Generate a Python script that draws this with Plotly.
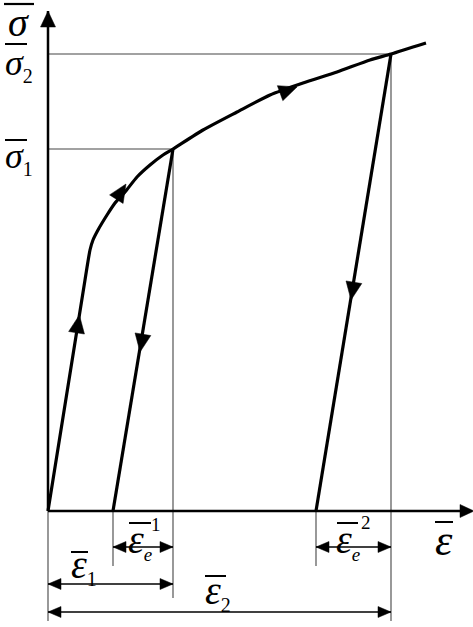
import numpy as np
import plotly.graph_objects as go

# ---------------- data (strain, stress) in arbitrary units ----------------
load_eps = [0.0, 0.37, 0.42, 0.45, 0.50, 0.59, 0.67, 0.77, 0.89, 1.02, 1.15, 1.25,
            1.55, 1.89, 2.22, 2.55, 2.89, 3.22, 3.43, 3.78]
load_sig = [0.0, 2.31, 2.61, 2.71, 2.81, 2.96, 3.08, 3.19, 3.34, 3.46, 3.56, 3.62,
            3.81, 3.99, 4.16, 4.28, 4.39, 4.51, 4.57, 4.68]

peak_eps = [1.25, 3.43]        # strain at unloading points
peak_sig = [3.62, 4.57]        # sigma_1, sigma_2
resid_eps = [0.65, 2.68]       # strain after unloading

axis_eps_max = 4.22
axis_sig_max = 5.00

# arrows on the path: (x, y) tip positions and directions
arrow_pts = [(0.314, 1.96), (0.78, 3.27), (2.49, 4.24), (0.92, 1.59), (3.03, 2.11)]
arrow_dirs = [(0.37, 2.31), (0.14, 0.22), (0.33, 0.12), (-0.60, -3.62), (-0.75, -4.57)]

# dimension rows (y level) for the bottom annotations
dim_e1_y = -0.36
dim_1_y = -0.73
dim_2_y = -1.01

# ---------------------------------------------------------------------------
U = 100.0  # pixels per unit (both axes)


def P(px, py):
    return (px - 48) / U, (511 - py) / U


fig = go.Figure()


def line(xs, ys, w, color="black", shape="linear"):
    fig.add_trace(go.Scatter(x=xs, y=ys, mode="lines",
                             line=dict(color=color, width=w, shape=shape,
                                       smoothing=0.6 if shape == "spline" else None),
                             hoverinfo="skip", showlegend=False))


def tri(tx, ty, dx, dy, L, W):
    d = np.array([dx, dy], float)
    d /= np.linalg.norm(d)
    n = np.array([-d[1], d[0]])
    L /= U
    W /= U
    b = np.array([tx, ty]) - L * d
    p1 = b + W / 2 * n
    p2 = b - W / 2 * n
    fig.add_trace(go.Scatter(x=[tx, p1[0], p2[0], tx], y=[ty, p1[1], p2[1], ty],
                             mode="lines", fill="toself", fillcolor="black",
                             line=dict(color="black", width=0.5),
                             hoverinfo="skip", showlegend=False))


gray = "#444444"
# guide lines (horizontal)
for e, s in zip(peak_eps, peak_sig):
    line([0, e], [s, s], 1.1, gray)
# vertical extension lines
line([0, 0], [0, dim_2_y - 0.09], 1.1, gray)
line([peak_eps[0], peak_eps[0]], [peak_sig[0], dim_1_y - 0.14], 1.1, gray)
line([peak_eps[1], peak_eps[1]], [peak_sig[1], dim_2_y - 0.09], 1.1, gray)
for r in resid_eps:
    line([r, r], [0, dim_e1_y - 0.19], 1.1, gray)

# axes
line([0, axis_eps_max], [0, 0], 2.5)
line([0, 0], [0, axis_sig_max], 2.5)
tri(axis_eps_max + 0.04, 0, 1, 0, 14, 13)
tri(0, axis_sig_max + 0.0, 0, 1, 16, 15)

# loading curve and unloading lines
line(load_eps, load_sig, 3.2, shape="spline")
for e, s, r in zip(peak_eps, peak_sig, resid_eps):
    line([e, r], [s, 0], 3.2)

for (x, y), (dx, dy) in zip(arrow_pts, arrow_dirs):
    tri(x, y, dx, dy, 18, 16)

# dimension arrows
dims = [(resid_eps[0], peak_eps[0], dim_e1_y),
        (resid_eps[1], peak_eps[1], dim_e1_y),
        (0, peak_eps[0], dim_1_y),
        (0, peak_eps[1], dim_2_y)]
for a, b, y in dims:
    line([a, b], [y, y], 1.3)
    tri(a, y, -1, 0, 13, 11)
    tri(b, y, 1, 0, 13, 11)

# ---------------- labels ----------------
ann = []
shapes = []
FONT = "Liberation Serif"


def txt(px, py, t, size, italic=False, xanchor="center"):
    x, y = P(px, py)
    if italic:
        t = "<i>" + t + "</i>"
    ann.append(dict(x=x, y=y, xref="x", yref="y", text=t, showarrow=False,
                    xanchor=xanchor, yanchor="middle",
                    font=dict(family=FONT, size=size, color="black")))


def bar(px0, px1, py, w):
    x0, y0 = P(px0, py)
    x1, _ = P(px1, py)
    shapes.append(dict(type="line", xref="x", yref="y", x0=x0, x1=x1, y0=y0, y1=y0,
                       line=dict(color="black", width=w)))


def sub(t, size):
    return "<sub><span style='font-size:%dpx'>%s</span></sub>" % (size, t)


# sigma (axis)
txt(18, 22, "σ", 40, True)
bar(4, 34, 4, 2.2)
# sigma_2
txt(3, 65, "<i>σ</i>" + sub("2", 20), 36, xanchor="left")
bar(5, 27, 44, 2)
# sigma_1
txt(3, 158, "<i>σ</i>" + sub("1", 20), 36, xanchor="left")
bar(5, 27, 140, 2)
# epsilon axis
txt(444, 540, "ε", 44, True)
bar(435, 453, 522, 2)
# eps_e^1
txt(126, 541, "<i>ε</i>" + sub("<i>e</i>", 19), 40, xanchor="left")
bar(129, 151, 523, 2)
txt(156, 524, "1", 19)
# eps_e^2
txt(334, 541, "<i>ε</i>" + sub("<i>e</i>", 19), 40, xanchor="left")
bar(337, 358, 523, 2)
txt(366, 522, "2", 19)
# eps_1
txt(69, 566, "<i>ε</i>" + sub("1", 20), 40, xanchor="left")
bar(71, 88, 552, 2)
# eps_2
txt(203, 592, "<i>ε</i>" + sub("2", 20), 40, xanchor="left")
bar(205, 226, 576, 2)

fig.update_layout(
    width=473, height=627,
    margin=dict(l=0, r=0, t=0, b=0),
    paper_bgcolor="white", plot_bgcolor="white",
    xaxis=dict(range=[-0.48, 4.25], visible=False, fixedrange=True),
    yaxis=dict(range=[-1.16, 5.11], visible=False, fixedrange=True),
    annotations=ann, shapes=shapes, showlegend=False,
)
fig.write_html("out.html", config={"displayModeBar": False},
               post_script="document.body.style.margin='0';")
